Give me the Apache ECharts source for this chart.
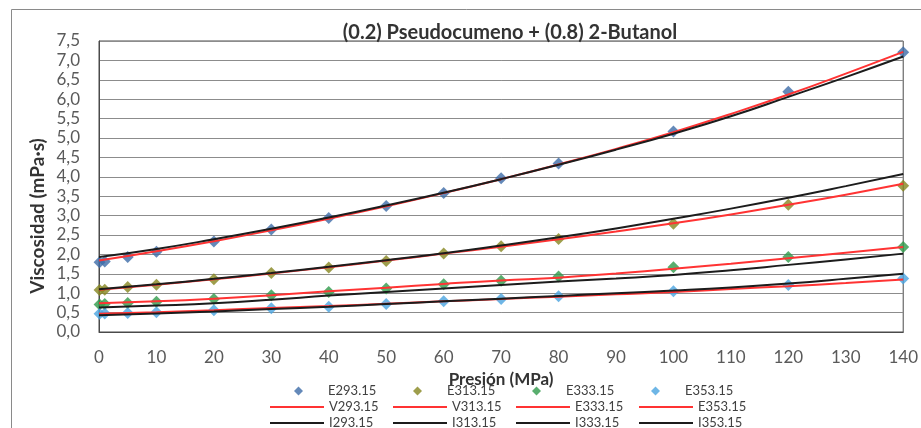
<!DOCTYPE html>
<html>
<head>
<meta charset="utf-8">
<script src="https://cdn.jsdelivr.net/npm/echarts@6/dist/echarts.min.js"></script>
<style>
  html, body { margin: 0; padding: 0; background: #ffffff; }
  #chart { width: 921px; height: 428px; }
</style>
</head>
<body>
<div id="chart"></div>
<script>
// Pressure (MPa) for the measured points
const expPressure = [0.1, 1, 5, 10, 20, 30, 40, 50, 60, 70, 80, 100, 120, 140];
// Pressure (MPa) for the correlated curves
const fitPressure = [0, 10, 20, 30, 40, 50, 60, 70, 80, 90, 100, 110, 120, 130, 140];

// Measured viscosity (mPa·s)
const E293 = [1.80, 1.82, 1.93, 2.07, 2.33, 2.64, 2.94, 3.25, 3.58, 3.96, 4.34, 5.17, 6.19, 7.21];
const E313 = [1.08, 1.09, 1.16, 1.22, 1.36, 1.52, 1.66, 1.83, 2.02, 2.21, 2.40, 2.79, 3.28, 3.77];
const E333 = [0.71, 0.72, 0.75, 0.78, 0.85, 0.95, 1.03, 1.12, 1.23, 1.32, 1.43, 1.67, 1.93, 2.19];
const E353 = [0.47, 0.48, 0.49, 0.51, 0.56, 0.61, 0.65, 0.72, 0.79, 0.85, 0.92, 1.05, 1.21, 1.38];

// Red correlation curves
const V293 = [1.84, 2.08, 2.34, 2.62, 2.92, 3.24, 3.58, 3.94, 4.32, 4.72, 5.15, 5.62, 6.12, 6.66, 7.22];
const V313 = [1.09, 1.22, 1.36, 1.51, 1.67, 1.84, 2.02, 2.20, 2.39, 2.59, 2.80, 3.03, 3.28, 3.54, 3.82];
const V333 = [0.74, 0.79, 0.86, 0.95, 1.05, 1.14, 1.24, 1.33, 1.40, 1.51, 1.63, 1.76, 1.90, 2.04, 2.19];
const V353 = [0.47, 0.51, 0.56, 0.62, 0.67, 0.73, 0.79, 0.85, 0.91, 0.97, 1.03, 1.11, 1.18, 1.26, 1.35];

// Black correlation curves
const I293 = [1.93, 2.14, 2.39, 2.66, 2.95, 3.26, 3.59, 3.94, 4.31, 4.70, 5.11, 5.56, 6.06, 6.57, 7.10];
const I313 = [1.10, 1.23, 1.37, 1.52, 1.68, 1.85, 2.03, 2.23, 2.44, 2.67, 2.92, 3.18, 3.46, 3.76, 4.07];
const I333 = [0.63, 0.68, 0.74, 0.83, 0.94, 1.03, 1.12, 1.21, 1.30, 1.38, 1.47, 1.59, 1.73, 1.87, 2.02];
const I353 = [0.43, 0.48, 0.53, 0.59, 0.65, 0.72, 0.79, 0.86, 0.93, 1.00, 1.07, 1.15, 1.25, 1.37, 1.50];

const titleText = '(0.2) Pseudocumeno + (0.8) 2-Butanol';
const xName = 'Presión (MPa)';
const yName = 'Viscosidad (mPa·s)';

const FONT = 'Lato';
const pair = (xs, ys) => xs.map((x, i) => [x, ys[i]]);

function scatter(name, data, color) {
  return {
    name, type: 'scatter', data: pair(expPressure, data),
    symbol: 'diamond', symbolSize: 12,
    itemStyle: { color }, z: 2
  };
}
function curve(name, data, color) {
  return {
    name, type: 'line', data: pair(fitPressure, data),
    smooth: true, symbol: 'none', showSymbol: false,
    lineStyle: { color, width: 2 }, itemStyle: { color }, z: 3
  };
}

const series = [
  scatter('E293.15', E293, '#3d6ba8'),
  scatter('E313.15', E313, '#86861f'),
  scatter('E333.15', E333, '#2f9a4a'),
  scatter('E353.15', E353, '#4aa4e0'),
  curve('V293.15', V293, '#ff3333'),
  curve('V313.15', V313, '#ff3333'),
  curve('E333.15 ', V333, '#ff3333'),
  curve('E353.15 ', V353, '#ff3333'),
  curve('I293.15', I293, '#1c1c1c'),
  curve('I313.15', I313, '#1c1c1c'),
  curve('I333.15', I333, '#1c1c1c'),
  curve('I353.15', I353, '#1c1c1c')
];

const legendText = { fontFamily: FONT, fontSize: 13, color: '#404040', lineHeight: 14 };

// marker row: small diamond icon, text pushed right so columns line up with the curve rows
function markerRow(names, top) {
  return {
    data: names.map(n => ({ name: n, icon: 'diamond' })),
    left: 294, top, orient: 'horizontal',
    padding: 0, itemGap: 29, itemWidth: 9, itemHeight: 9,
    selectedMode: false,
    formatter: n => n.trim(),
    textStyle: Object.assign({ width: 56, padding: [0, 0, 0, 20] }, legendText)
  };
}
// curve row: flat bar icon the width of a short line segment
function curveRow(names, top) {
  return {
    data: names.map(n => ({ name: n, icon: 'rect' })),
    left: 270, top, orient: 'horizontal',
    padding: 0, itemGap: 8, itemWidth: 54, itemHeight: 2,
    selectedMode: false,
    formatter: n => n.trim(),
    textStyle: Object.assign({ width: 56 }, legendText)
  };
}

const chart = echarts.init(document.getElementById('chart'), null, { renderer: 'canvas' });
chart.setOption({
  animation: false,
  backgroundColor: '#ffffff',
  title: {
    text: titleText, left: 505, top: 18, textAlign: 'center',
    textStyle: { fontFamily: FONT, fontSize: 20, fontWeight: 'bold', color: '#333333' }
  },
  grid: {
    left: 99, right: 16, top: 41, bottom: 96,
    show: true, borderColor: '#4a4a4a', borderWidth: 1, backgroundColor: 'transparent'
  },
  xAxis: {
    type: 'value', min: 0, max: 140, interval: 10,
    name: xName, nameLocation: 'middle', nameGap: 38,
    nameTextStyle: { fontFamily: FONT, fontSize: 17, fontWeight: 'bold', color: '#333333' },
    axisLine: { show: true, lineStyle: { color: '#4a4a4a' } },
    axisTick: { show: false },
    splitLine: { show: false },
    axisLabel: { fontFamily: FONT, fontSize: 17, color: '#5a5a5a', margin: 17 }
  },
  yAxis: {
    type: 'value', min: 0, max: 7.5, interval: 0.5,
    axisLine: { show: true, lineStyle: { color: '#4a4a4a' } },
    axisTick: { show: false },
    splitLine: { show: true, lineStyle: { color: '#8c8c8c', width: 1 } },
    axisLabel: {
      fontFamily: FONT, fontSize: 17, color: '#5a5a5a', margin: 19,
      formatter: v => v.toFixed(1).replace('.', ',')
    }
  },
  legend: [
    markerRow(['E293.15', 'E313.15', 'E333.15', 'E353.15'], 384),
    curveRow(['V293.15', 'V313.15', 'E333.15 ', 'E353.15 '], 400),
    curveRow(['I293.15', 'I313.15', 'I333.15', 'I353.15'], 416)
  ],
  graphic: [
    {
      type: 'rect', silent: true, z: -1,
      shape: { x: 11.5, y: 9.5, width: 960, height: 460 },
      style: { fill: 'none', stroke: '#8a8a8a', lineWidth: 1 }
    },
    {
      type: 'text', silent: true,
      x: 38, y: 216, rotation: Math.PI / 2,
      style: {
        text: yName, fontFamily: FONT, fontSize: 19, fontWeight: 'bold',
        fill: '#333333', align: 'center', verticalAlign: 'middle'
      }
    }
  ],
  series
});
</script>
</body>
</html>
